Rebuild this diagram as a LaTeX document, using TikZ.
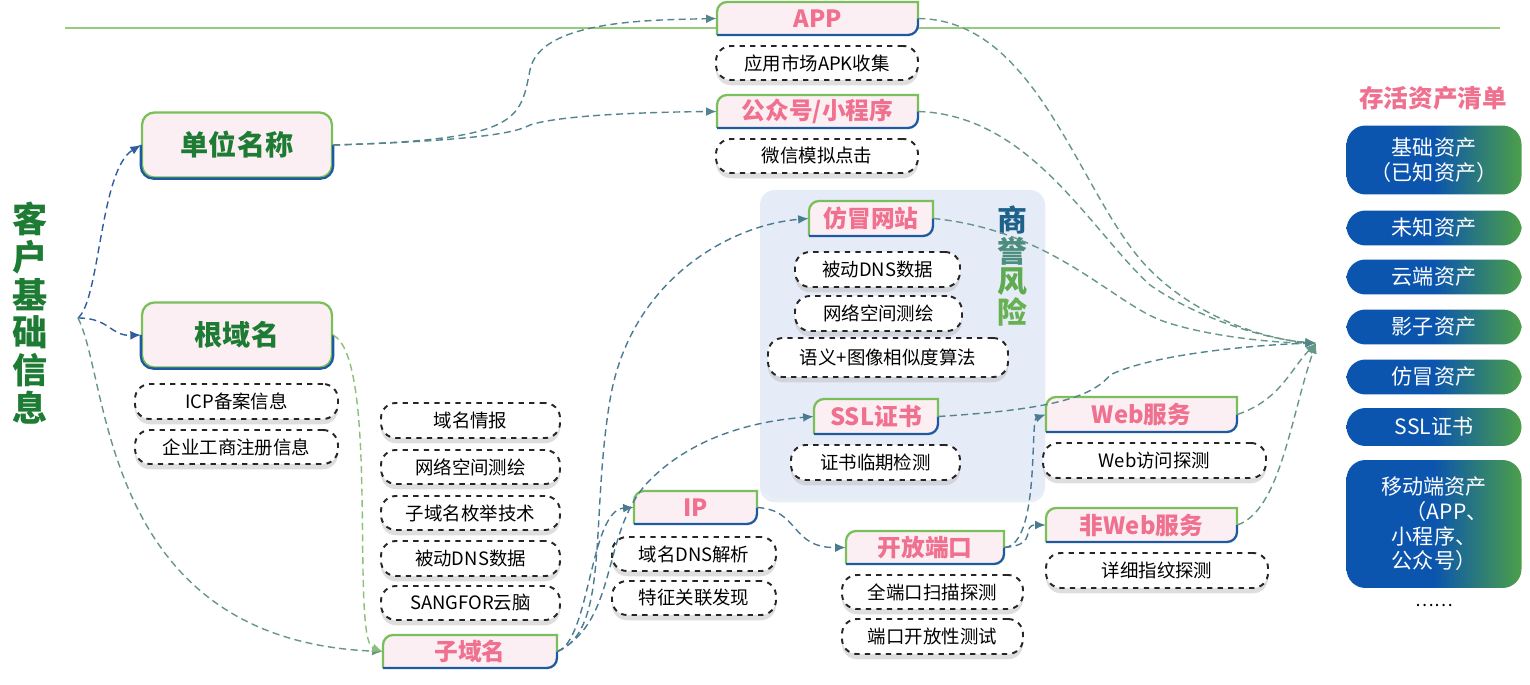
\documentclass[tikz,border=0pt]{standalone}
\usepackage{fontspec}
\setmainfont{Noto Sans CJK SC}
\usetikzlibrary{arrows.meta,shadows,calc}
\definecolor{tpink}{HTML}{F0708F}
\definecolor{pfill}{HTML}{FCEFF3}
\definecolor{gb}{HTML}{7BBF5A}
\definecolor{bb}{HTML}{1E5AA0}
\definecolor{dg}{HTML}{1E7B34}
\definecolor{lb}{HTML}{2E5E9E}
\definecolor{lg}{HTML}{8CBF78}
\definecolor{ab}{HTML}{0B55AE}
\definecolor{ag}{HTML}{4C9F48}
\definecolor{panel}{HTML}{E6EBF8}
\tikzset{
 tabtxt/.style={inner sep=0pt,font=\fontsize{13.5}{15}\selectfont\bfseries,text=tpink},
 dbox/.style={draw=black!85,dashed,line width=1.1pt,rounded corners=0.3cm,fill=white,inner sep=0pt,font=\fontsize{10.5}{12}\selectfont,
   drop shadow={shadow xshift=0pt,shadow yshift=-3pt,fill=black!25,opacity=.5}},
 bigbox/.style={draw=gb,line width=1.3pt,rounded corners=0.25cm,fill=pfill,inner sep=0pt,text=dg,font=\fontsize{16}{18}\selectfont\bfseries},
 abox/.style={rounded corners=0.38cm,inner sep=0pt,text=white,font=\fontsize{12}{14}\selectfont,align=center,
   shading angle=-60,left color=ab,right color=ag,middle color=ab},
 con/.style={dashed,line width=0.8pt,dash pattern=on 4pt off 2.5pt},
 arr/.style={con,-{Latex[length=6pt,width=5pt]}},
}
\newcommand\tabbx[6]{%
 \fill[pfill] (#2,#5) -- (#2,#3+10) arc[start angle=180,end angle=90,radius=0.2cm] -- (#4,#3) -- (#4,#5-10) arc[start angle=0,end angle=-90,radius=0.2cm] -- cycle;
 \draw[gb,line width=1.3pt] (#2,#5) -- (#2,#3+10) arc[start angle=180,end angle=90,radius=0.2cm] -- (#4,#3) -- (#4,{(#3+#5)/2});
 \draw[bb,line width=1.3pt] (#4,{(#3+#5)/2}) -- (#4,#5-10) arc[start angle=0,end angle=-90,radius=0.2cm] -- (#2,#5);
 \node[tabtxt,minimum width={(#4-#2)*0.02cm},minimum height={(#5-#3)*0.02cm}] (#1) at ({(#2+#4)/2},{(#3+#5)/2}) {#6};
}
\newcommand\dbx[6]{%
 \node[dbox,minimum width={(#4-#2)*0.02cm},minimum height={(#5-#3)*0.02cm}] (#1) at ({(#2+#4)/2},{(#3+#5)/2}) {#6};
}
\begin{document}
\begin{tikzpicture}[x=0.02cm,y=-0.02cm]
\useasboundingbox (0,0) rectangle (1530,685);
\fill[white] (0,0) rectangle (1530,685);
% top line
\draw[gb!80,line width=0.8pt] (65,28) -- (1500,28);
% panel
\fill[panel,rounded corners=0.3cm,drop shadow={shadow xshift=0pt,shadow yshift=-3pt,fill=bb!20,opacity=.5}] (760,190) rectangle (1045,497);
% left title
\node[text=dg,font=\fontsize{20}{21.5}\selectfont\bfseries,align=center,inner sep=0pt] (kh) at (30,313) {客\\户\\基\\础\\信\\息};
\coordinate (o) at (78,318);
% big boxes
\node[bigbox,minimum width=3.8cm,minimum height=1.3cm] (dw) at (237,145) {单位名称};
\draw[bb,line width=1.3pt,rounded corners=0.25cm] (dw.east) -- (dw.south east) -- (dw.south west) -- (dw.west);
\node[bigbox,minimum width=3.8cm,minimum height=1.3cm] (gy) at (237,335) {根域名};
\draw[bb,line width=1.3pt,rounded corners=0.25cm] (gy.east) -- (gy.south east) -- (gy.south west) -- (gy.west);
\dbx{icp}{135}{384}{338}{419}{ICP备案信息}
\dbx{qy}{135}{430}{338}{464}{企业工商注册信息}
% left column
\dbx{l1}{381}{403}{560}{438}{域名情报}
\dbx{l2}{381}{450}{560}{484}{网络空间测绘}
\dbx{l3}{381}{496}{560}{530}{子域名枚举技术}
\dbx{l4}{381}{541}{560}{576}{被动DNS数据}
\dbx{l5}{381}{586}{560}{620}{SANGFOR云脑}
\tabbx{zy}{383}{635}{557}{668}{子域名}
% APP etc
\tabbx{app}{717}{2}{918}{35}{APP}
\dbx{apk}{716}{46}{918}{80}{应用市场APK收集}
\tabbx{gzh}{717}{95}{918}{128}{公众号/小程序}
\dbx{wx}{716}{139}{918}{173}{微信模拟点击}
% panel content
\tabbx{fm}{809}{201}{933}{236}{仿冒网站}
\dbx{p1}{795}{252}{960}{287}{被动DNS数据}
\dbx{p2}{795}{296}{962}{331}{网络空间测绘}
\dbx{p3}{768}{338}{1008}{377}{语义+图像相似度算法}
\node[font=\fontsize{17}{17.5}\selectfont\bfseries,align=center,inner sep=0pt] (syfx) at (1012,266) {\textcolor{bb!80!dg}{商}\\\textcolor{bb!50!gb}{誉}\\\textcolor{gb!70!dg}{风}\\\textcolor{gb!80!dg}{险}};
\tabbx{ssl}{814}{399}{938}{434}{SSL证书}
\dbx{zs}{791}{445}{960}{480}{证书临期检测}
% IP
\tabbx{ip}{634}{491}{757}{524}{IP}
\dbx{ip1}{612}{537}{776}{571}{域名DNS解析}
\dbx{ip2}{612}{581}{776}{615}{特征关联发现}
\tabbx{dk}{846}{531}{1004}{564}{开放端口}
\dbx{dk1}{842}{575}{1023}{609}{全端口扫描探测}
\dbx{dk2}{842}{619}{1023}{654}{端口开放性测试}
\tabbx{web}{1046}{397}{1237}{432}{Web服务}
\dbx{web1}{1043}{443}{1266}{478}{Web访问探测}
\tabbx{nweb}{1046}{508}{1237}{542}{非Web服务}
\dbx{nweb1}{1046}{553}{1268}{588}{详细指纹探测}
% right list
\node[text=tpink,font=\fontsize{14}{16}\selectfont\bfseries,inner sep=0pt] (qd) at (1433,98) {存活资产清单};
\node[abox,minimum width=3.5cm,minimum height=1.38cm] (a1) at (1434,160) {基础资产\\（已知资产）};
\node[abox,minimum width=3.5cm,minimum height=0.7cm] (a2) at (1434,228) {未知资产};
\node[abox,minimum width=3.5cm,minimum height=0.7cm] (a3) at (1434,277) {云端资产};
\node[abox,minimum width=3.5cm,minimum height=0.7cm] (a4) at (1434,327) {影子资产};
\node[abox,minimum width=3.5cm,minimum height=0.7cm] (a5) at (1434,377) {仿冒资产};
\node[abox,minimum width=3.5cm,minimum height=0.76cm] (a6) at (1434,427) {SSL证书};
\node[abox,minimum width=3.5cm,minimum height=2.56cm] (a7) at (1434,524) {移动端资产\\\hspace*{1.2em}（APP、\\小程序、\\公众号）};
\node[inner sep=0pt,font=\fontsize{10}{12}\selectfont] (dots) at (1434,606) {……};
\coordinate (t) at (1316,343);
% connectors
\draw[arr,lb] (o) .. controls (100,300) and (100,170) .. (dw.west);
\draw[arr,lb] (o) .. controls (110,318) and (110,336) .. (gy.west);
\draw[arr,lg!60!lb] (o) .. controls (110,380) and (100,640) .. (zy.west);
\draw[arr,lg] (gy.east) .. controls (380,360) and (350,640) .. (zy.west);
\draw[arr,lb!60!lg] (dw.east) .. controls (520,140) and (520,120) .. (530,70) .. controls (540,20) and (650,20) .. (app.west);
\draw[arr,lb!60!lg] (dw.east) .. controls (500,140) and (520,130) .. (530,125) .. controls (560,115) and (650,112) .. (gzh.west);
\draw[arr,lb!70!lg] (zy.east) .. controls (610,630) and (590,520) .. (610,400) .. controls (630,280) and (730,225) .. (fm.west);
\draw[arr,lb!70!lg] (zy.east) .. controls (620,620) and (600,530) .. (650,480) .. controls (700,430) and (770,420) .. (ssl.west);
\draw[arr,lb!70!lg] (zy.east) .. controls (590,640) and (590,510) .. (ip.west);
\draw[arr,lb!70!lg] (ip.east) .. controls (800,510) and (790,548) .. (dk.west);
\draw[arr,lb!70!lg] (dk.east) .. controls (1040,545) and (1030,420) .. (web.west);
\draw[arr,lb!70!lg] (dk.east) .. controls (1040,545) and (1020,525) .. (nweb.west);
\draw[arr,lg!60!lb] (app.east) .. controls (1040,20) and (1080,200) .. (1150,270) .. controls (1200,320) and (1270,340) .. (t);
\draw[arr,lg!60!lb] (gzh.east) .. controls (1030,115) and (1090,230) .. (1150,285) .. controls (1200,320) and (1270,340) .. (t);
\draw[arr,lg!60!lb] (fm.east) .. controls (1050,230) and (1110,300) .. (1160,320) .. controls (1200,335) and (1270,343) .. (t);
\draw[arr,lb!60!lg] (ssl.east) .. controls (1040,410) and (1090,400) .. (1110,375) .. controls (1150,355) and (1250,345) .. (t);
\draw[arr,lg!60!lb] (web.east) .. controls (1280,400) and (1290,370) .. (t);
\draw[arr,lg!60!lb] (nweb.east) .. controls (1280,510) and (1290,420) .. (t);
\end{tikzpicture}
\end{document}
